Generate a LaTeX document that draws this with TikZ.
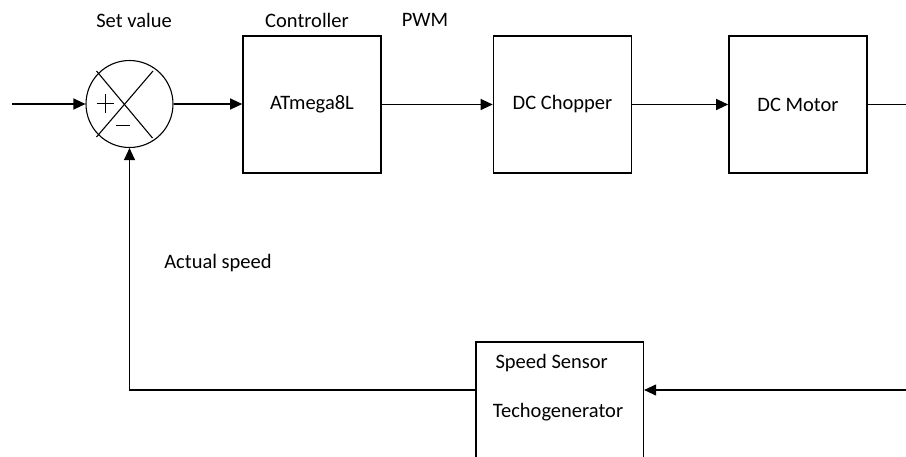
\documentclass[tikz,border=0pt]{standalone}
\usepackage{fontspec}
\setmainfont{Carlito}
\usetikzlibrary{arrows.meta}
\begin{document}
\begin{tikzpicture}[x=1pt,y=-1pt,
  blk/.style={draw,line width=1.6pt,minimum width=138pt,minimum height=137pt,inner sep=0pt,font=\fontsize{20.5}{24}\selectfont},
  lbl/.style={inner sep=0pt,font=\fontsize{20.5}{24}\selectfont},
  conn/.style={line width=1.1pt},
  arr/.style={conn,-{Triangle[length=12pt,width=11pt]}}]
\useasboundingbox (0,0) rectangle (906,456);
\clip (0,0) rectangle (906,456);
% summing junction
\node[circle,draw,line width=1.1pt,minimum size=87pt,inner sep=0pt] (sum) at (129.5,104) {};
\draw[line width=1.1pt] ([shift={(-33,-33)}]sum.center) -- ([shift={(23,34)}]sum.center);
\draw[line width=1.1pt] ([shift={(23.5,-33)}]sum.center) -- ([shift={(-33,33)}]sum.center);
\draw[line width=0.9pt] ([shift={(-33,-1)}]sum.center) -- ([shift={(-16,-1)}]sum.center);
\draw[line width=0.9pt] ([shift={(-24.5,-10)}]sum.center) -- ([shift={(-24.5,9)}]sum.center);
\draw[line width=0.9pt] ([shift={(-14,21)}]sum.center) -- ([shift={(0.5,21)}]sum.center);
% blocks
\node[blk] (ctrl) at (312,104.5) {ATmega8L};
\node[blk] (chop) at (562.5,104.5) {DC Chopper};
\node[blk] (motor) at (798,104.5) {DC Motor};
\node[draw,line width=1.6pt,minimum width=167.6pt,minimum height=128pt,inner sep=0pt] (sensor) at (559.5,405.8) {};
\node[lbl] (ss) at (551.7,363) {Speed Sensor};
\node[lbl] (tg) at (558,412) {Techogenerator};
% labels
\node[lbl] (setv) at (134,20) {Set value};
\node[lbl] (ctl) at (307,20) {Controller};
\node[lbl] (pwm) at (425,20) {PWM};
\node[lbl] (act) at (218,263) {Actual speed};
% coordinates
\coordinate (in) at (12,104);
\coordinate (out) at (906,104.5);
\coordinate (fbr) at (906,390);
\coordinate (fbl) at (129.5,390);
% connectors
\draw[arr] (in) -- (sum.west);
\draw[arr] (sum.east) -- (ctrl.west |- sum.east);
\draw[arr] (ctrl.east) -- (chop.west);
\draw[arr] (chop.east) -- (motor.west);
\draw[conn] (motor.east) -- (out);
\draw[arr] (fbr) -- (sensor.east |- fbr);
\draw[arr] (sensor.west |- fbr) -- (fbl) -- (sum.south);
\end{tikzpicture}
\end{document}
